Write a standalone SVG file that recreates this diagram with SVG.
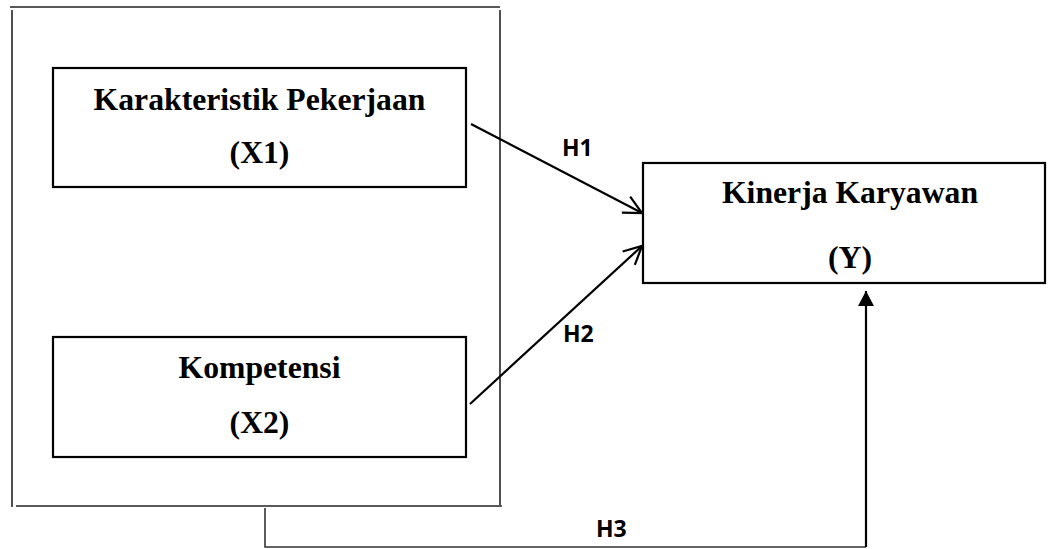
<svg xmlns="http://www.w3.org/2000/svg" width="1050" height="549" viewBox="0 0 1050 549">
<defs>
<style>
.box{fill:#fff;stroke:#000;stroke-width:2.2}
.frame{stroke:#222;stroke-width:1.6;fill:none}
.conn{stroke:#000;stroke-width:2.2;fill:none}
.t{font-family:"Liberation Serif","Times New Roman",serif;font-weight:bold;font-size:31.7px;fill:#000;text-anchor:middle}
.h{font-family:"Open Sans","Liberation Sans",sans-serif;font-weight:bold;font-size:23px;fill:#000}
</style>
<marker id="open" markerUnits="userSpaceOnUse" markerWidth="30" markerHeight="30" viewBox="-25 -15 30 30" refX="0" refY="0" orient="auto">
<path d="M-18,-9 L0,0 L-18,9" fill="none" stroke="#000" stroke-width="2.2"/>
</marker>
<marker id="solid" markerUnits="userSpaceOnUse" markerWidth="20" markerHeight="20" viewBox="-16 -10 20 20" refX="0" refY="0" orient="auto">
<path d="M-15,-8 L0,0 L-15,8 Z" fill="#000"/>
</marker>
</defs>
<g id="frame">
<line class="frame" x1="10" y1="7" x2="500" y2="7"/>
<line class="frame" x1="12" y1="10" x2="12" y2="507"/>
<line class="frame" x1="500" y1="10" x2="500" y2="505"/>
<line class="frame" x1="16" y1="506" x2="502" y2="506"/>
</g>
<g id="node-x1">
<rect class="box" x="53" y="68" width="413" height="119"/>
<text class="t" x="259.5" y="110">Karakteristik Pekerjaan</text>
<text class="t" x="259.5" y="163">(X1)</text>
</g>
<g id="node-x2">
<rect class="box" x="53" y="337" width="413" height="120"/>
<text class="t" x="259.5" y="378">Kompetensi</text>
<text class="t" x="259.5" y="433">(X2)</text>
</g>
<g id="node-y">
<rect class="box" x="643" y="163" width="402" height="120"/>
<text class="t" x="850" y="203">Kinerja Karyawan</text>
<text class="t" x="850" y="268">(Y)</text>
</g>
<g id="connectors">
<line class="conn" x1="471" y1="124" x2="642" y2="213" marker-end="url(#open)"/>
<line class="conn" x1="470" y1="404" x2="642" y2="246" marker-end="url(#open)"/>
<polyline fill="none" stroke="#333" stroke-width="1.6" points="265,508 265,547 866,547"/>
<line class="conn" x1="866" y1="547" x2="866" y2="291" marker-end="url(#solid)"/>
<text class="h" x="562" y="156">H1</text>
<text class="h" x="563" y="342">H2</text>
<text class="h" x="596" y="537">H3</text>
</g>
</svg>
